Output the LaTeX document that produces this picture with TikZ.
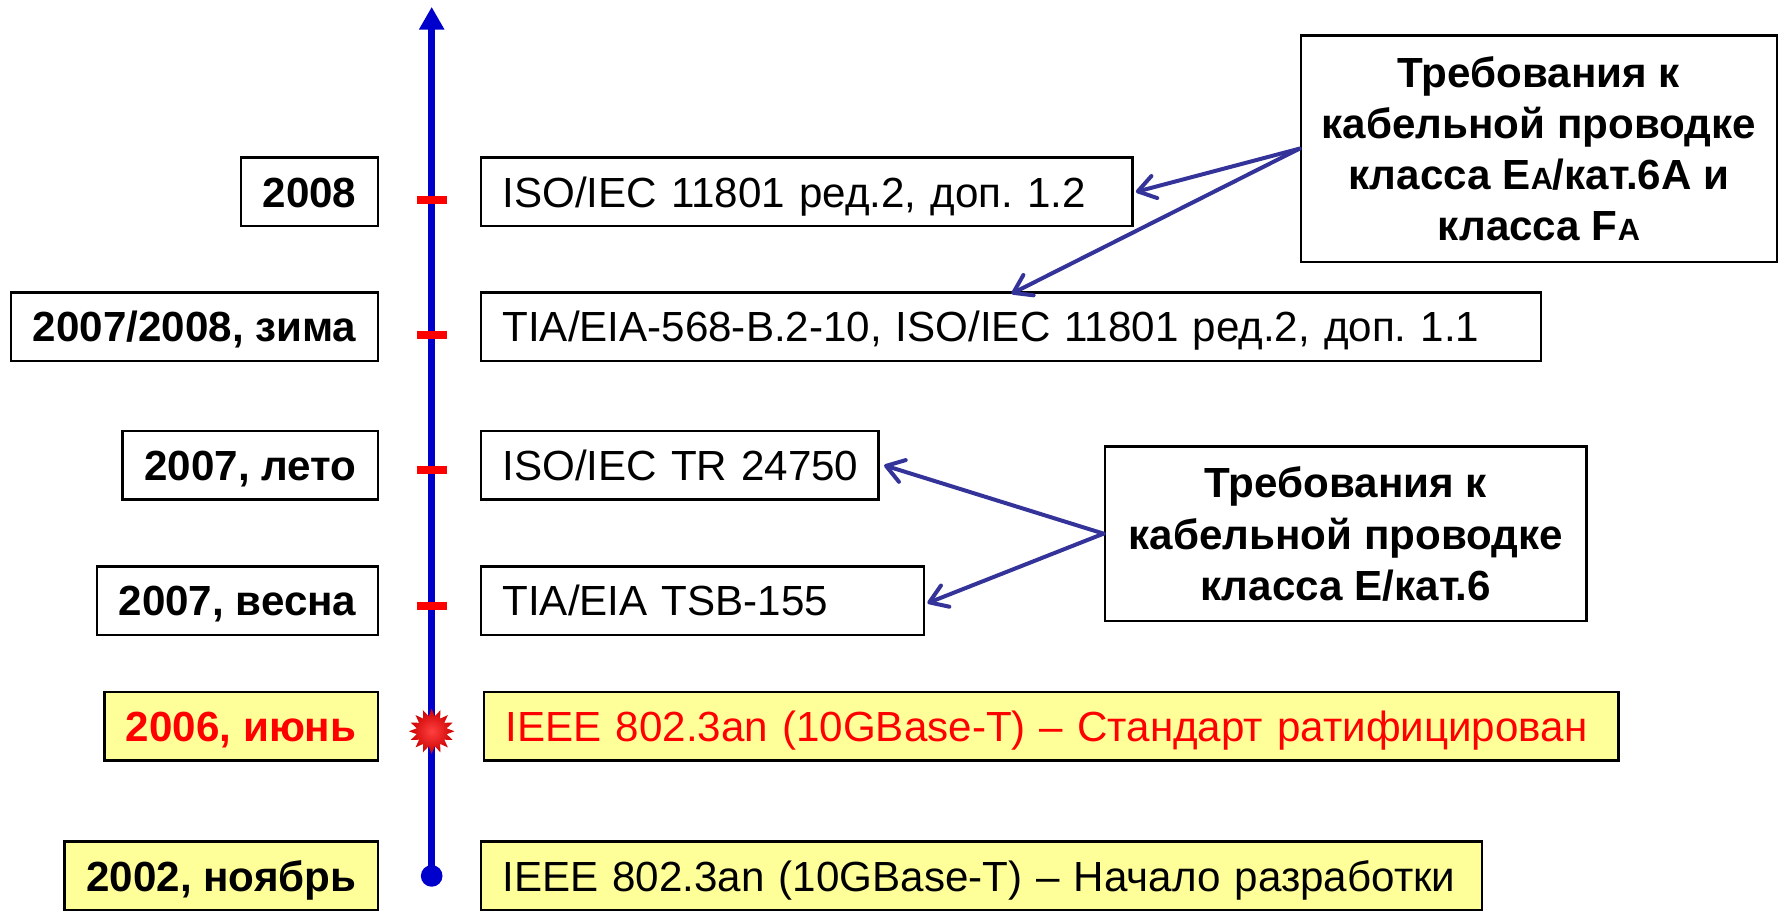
\documentclass[tikz,border=0pt]{standalone}
\usepackage{fontspec}
\setmainfont{Liberation Sans}
\usetikzlibrary{arrows.meta,shapes.geometric,calc}
\definecolor{axisblue}{RGB}{0,0,204}
\definecolor{callblue}{RGB}{51,51,153}
\definecolor{lightyellow}{RGB}{255,255,153}
\definecolor{tickred}{RGB}{255,0,0}
\newcommand{\smallA}{{\fontsize{27}{30}\selectfont A}}
\frenchspacing
\tikzset{
  basebox/.style={draw=black, line width=2.2pt, rectangle, minimum height=60pt,
    inner xsep=19pt, inner ysep=0pt, text height=26.5pt, text depth=0pt,
    font=\fontsize{37}{45}\selectfont\frenchspacing},
  lbox/.style={basebox, anchor=east, font=\bfseries\fontsize{37}{45}\selectfont\frenchspacing},
  rbox/.style={basebox, anchor=west, align=left, text width=#1-38pt, minimum width=#1},
  callout/.style={draw=black, line width=2.2pt, rectangle, align=center, inner sep=0pt,
    text depth=0pt, font=\bfseries\fontsize{37}{45}\selectfont\frenchspacing},
  redtick/.style={rectangle, fill=tickred, minimum width=26pt, minimum height=7pt, inner sep=0pt},
  axisline/.style={draw=axisblue, line width=6.5pt, -{Triangle[length=20pt,width=21pt]}},
  callarrow/.style={draw=callblue, line width=3.5pt, line cap=round, line join=round,
    -{Straight Barb[length=15pt,width=20pt,line cap=round,line join=round]}},
  yel/.style={fill=lightyellow}
}
\begin{document}
\begin{tikzpicture}[x=1pt,y=-1pt]
\clip (0,0) rectangle (1568,799);
\fill[white] (0,0) rectangle (1568,799);

% axis
\coordinate (top) at (379,6);
\node[circle, fill=axisblue, minimum size=19pt, inner sep=0pt] (dot) at (379,769) {};
\draw[axisline] (dot.center) -- (top);
\node[redtick] (t1) at (379,175.5) {};
\node[redtick] (t2) at (379,294.5) {};
\node[redtick] (t3) at (379,413) {};
\node[redtick] (t4) at (379,532) {};
\node[star, star points=16, star point ratio=1.5, minimum size=40pt, inner sep=0pt,
      inner color=red!75!white, outer color=red!80!black] (burst) at (379,642) {};

% left labels
\node[lbox] (l1) at (333,168.5) {2008};
\node[lbox] (l2) at (333,287) {2007/2008, зима};
\node[lbox] (l3) at (333,408.5) {2007, лето};
\node[lbox] (l4) at (333,527.5) {2007, весна};
\node[lbox, yel, text=red] (l5) at (333,637.5) {2006, июнь};
\node[lbox, yel] (l6) at (333,769) {2002, ноябрь};

% right boxes
\node[rbox=572pt] (r1) at (421,168.5) {\mbox{ISO/IEC 11801 ред.2, доп. 1.2}};
\node[rbox=931pt] (r2) at (421,287) {\mbox{TIA/EIA-568-B.2-10, ISO/IEC 11801 ред.2, доп. 1.1}};
\node[rbox=349pt] (r3) at (421,408.5) {\mbox{ISO/IEC TR 24750}};
\node[rbox=389pt] (r4) at (421,527.5) {\mbox{TIA/EIA TSB-155}};
\node[rbox=996pt, yel, text=red] (r5) at (424,637.5) {\mbox{IEEE 802.3an (10GBase-T) – Стандарт ратифицирован}};
\node[rbox=879pt, yel] (r6) at (421,769) {\mbox{IEEE 802.3an (10GBase-T) – Начало разработки}};

% callouts
\node[callout, minimum width=418pt, minimum height=199pt] (c1) at (1351,130.5)
  {Требования к\\кабельной проводке\\класса E\smallA/кат.6A и\\класса F\smallA};
\node[callout, minimum width=423pt, minimum height=153pt] (c2) at (1181.5,468.5)
  {Требования к\\кабельной проводке\\класса E/кат.6};

% arrows
\draw[callarrow] (c1.west) -- ([xshift=2pt]r1.east);
\draw[callarrow] (c1.west) -- ([xshift=467pt,yshift=-2pt]r2.north west);
\draw[callarrow] (c2.west) -- ([xshift=4pt]r3.east);
\draw[callarrow] (c2.west) -- ([xshift=2pt,yshift=-2pt]r4.east);
\end{tikzpicture}
\end{document}
